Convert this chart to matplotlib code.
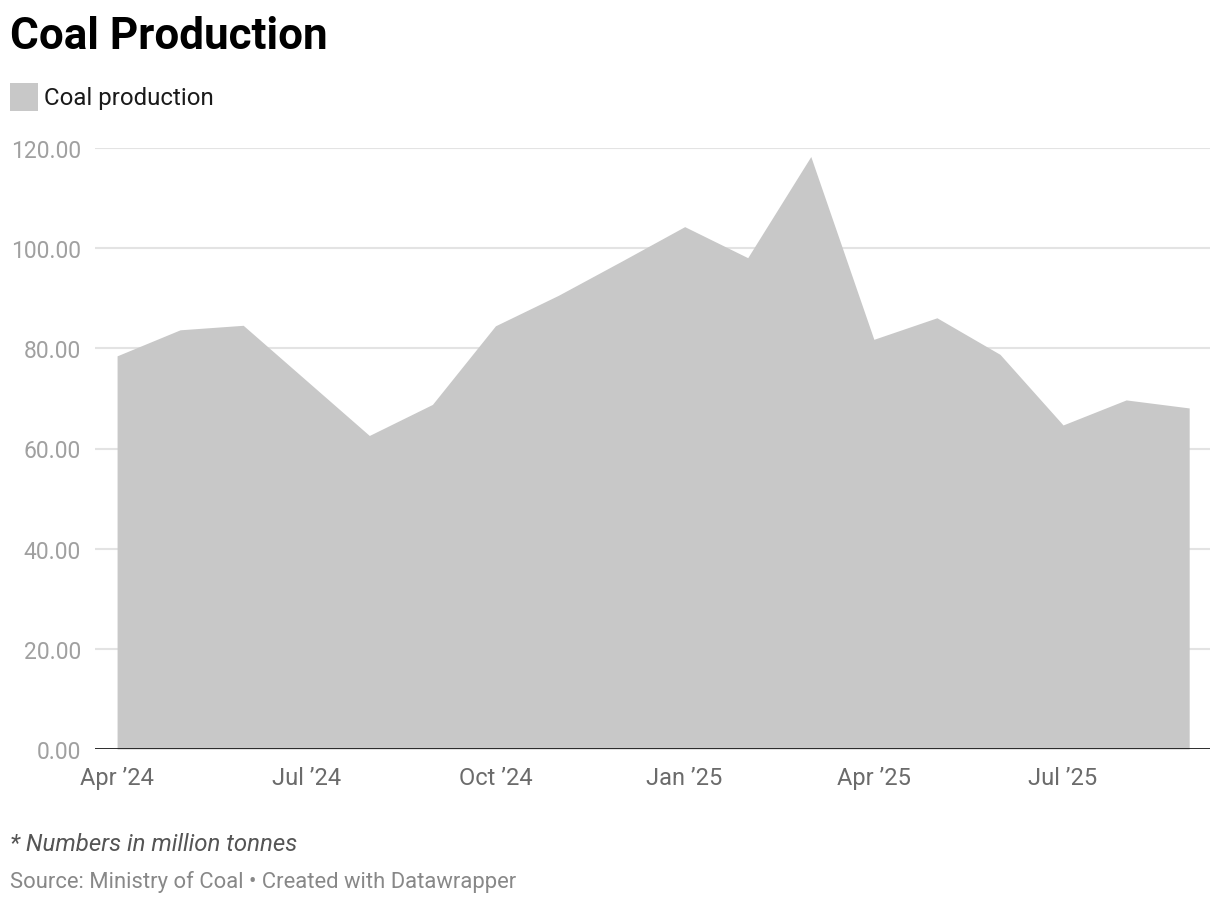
import matplotlib
matplotlib.use('Agg')
from matplotlib import pyplot as plt
from matplotlib.patches import Rectangle

plt.rcParams['font.family'] = ['Roboto', 'DejaVu Sans']

months = ['Apr 2024', 'May 2024', 'Jun 2024', 'Jul 2024', 'Aug 2024', 'Sep 2024',
          'Oct 2024', 'Nov 2024', 'Dec 2024', 'Jan 2025', 'Feb 2025', 'Mar 2025',
          'Apr 2025', 'May 2025', 'Jun 2025', 'Jul 2025', 'Aug 2025', 'Sep 2025']
production = [78.5, 83.7, 84.6, 73.6, 62.6, 68.8,
              84.5, 90.6, 97.4, 104.3, 98.1, 118.3,
              81.8, 86.1, 78.8, 64.7, 69.7, 68.1]
tick_pos = [0, 3, 6, 9, 12, 15]
tick_labels = ['Apr \u201924', 'Jul \u201924', 'Oct \u201924', 'Jan \u201925', 'Apr \u201925', 'Jul \u201925']
y_ticks = [0, 20, 40, 60, 80, 100, 120]

fig = plt.figure(figsize=(12.2, 9.04), dpi=100)
ax = fig.add_axes([95 / 1220, 1 - 750 / 904, 1115 / 1220, 601 / 904])

x = list(range(len(months)))
ax.fill_between(x, production, 0, color='#c8c8c8', linewidth=0, zorder=1)

for y in y_ticks[1:]:
    ax.axhline(y, color='#e3e3e3', linewidth=1.5, zorder=0)
ax.axhline(0, color='#1a1a1a', linewidth=2, zorder=3)

ax.set_xlim(-0.35, 17.33)
ax.set_ylim(0, 120)
for s in ax.spines.values():
    s.set_visible(False)

ax.set_yticks(y_ticks)
ax.set_yticklabels(['%.2f' % v for v in y_ticks])
ax.set_xticks(tick_pos)
ax.set_xticklabels(tick_labels)
ax.tick_params(axis='y', length=0, pad=10, labelsize=16.5, labelcolor='#a0a0a0')
ax.tick_params(axis='x', length=0, pad=12, labelsize=17, labelcolor='#6b6b6b')

fig.text(10 / 1220, 1 - 37 / 904, 'Coal Production', fontsize=31.7, fontweight='bold',
         color='#000000', va='center', ha='left')
fig.patches.append(Rectangle((10 / 1220, 1 - 112 / 904), 28 / 1220, 28 / 904,
                             transform=fig.transFigure, facecolor='#c8c8c8', edgecolor='none'))
fig.text(44 / 1220, 1 - 99 / 904, 'Coal production', fontsize=17.3, color='#1a1a1a',
         va='center', ha='left')
fig.text(10 / 1220, 1 - 845 / 904, '* Numbers in million tonnes', fontsize=17.3, style='italic',
         color='#555555', va='center', ha='left')
fig.text(10 / 1220, 1 - 882 / 904, 'Source: Ministry of Coal \u2022 Created with Datawrapper',
         fontsize=15.8, color='#888888', va='center', ha='left')

fig.savefig('out.png', dpi=100, facecolor='white')
